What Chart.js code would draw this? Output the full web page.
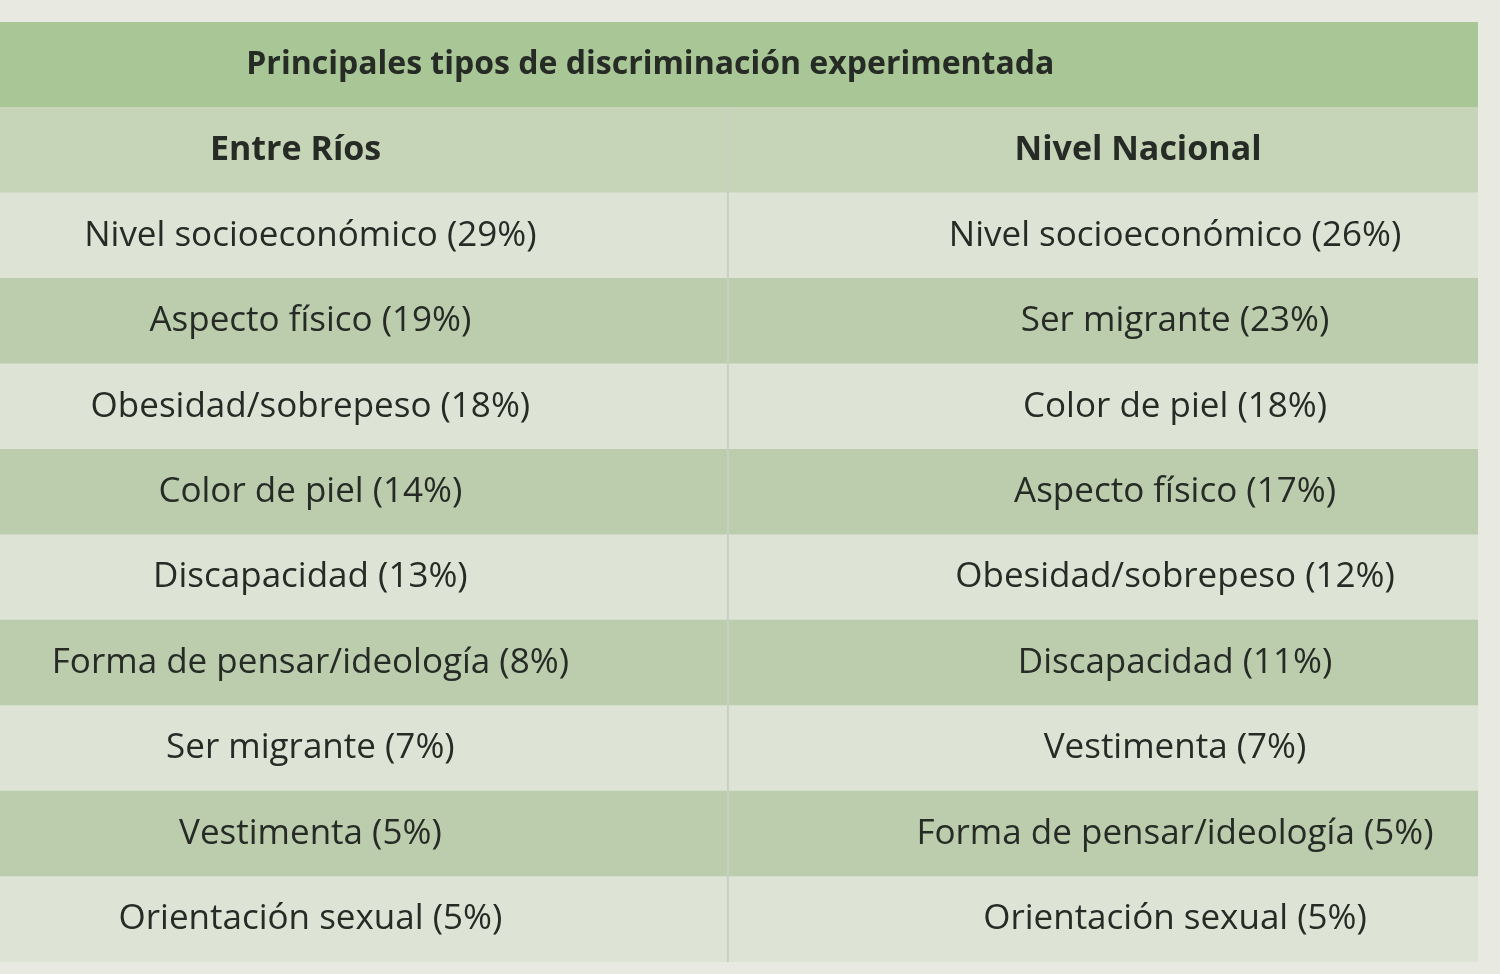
<!DOCTYPE html>
<html><head><meta charset="utf-8">
<script src="https://cdn.jsdelivr.net/npm/chart.js@4/dist/chart.umd.min.js"></script>
<style>html,body{margin:0;padding:0;background:#e8eae2;}canvas{display:block}</style>
</head><body>
<canvas id="c" width="1500" height="974"></canvas>
<script>
const title = "Principales tipos de discriminación experimentada";
const headers = ["Entre Ríos", "Nivel Nacional"];
const entreRiosCats = ["Nivel socioeconómico","Aspecto físico","Obesidad/sobrepeso","Color de piel","Discapacidad","Forma de pensar/ideología","Ser migrante","Vestimenta","Orientación sexual"];
const entreRiosVals = [29,19,18,14,13,8,7,5,5];
const nacionalCats = ["Nivel socioeconómico","Ser migrante","Color de piel","Aspecto físico","Obesidad/sobrepeso","Discapacidad","Vestimenta","Forma de pensar/ideología","Orientación sexual"];
const nacionalVals = [26,23,18,17,12,11,7,5,5];

const rows = ["title","header"].concat(entreRiosCats.map((_,i)=>"r"+i));
const colors = ["#a9c796","#c6d5b7"].concat(entreRiosCats.map((_,i)=> i%2===0 ? "#dde4d5" : "#bccdae"));

const textPlugin = {
  id:'tableText',
  afterDatasetsDraw(chart){
    const {ctx, scales:{x,y}} = chart;
    ctx.save();
    ctx.fillStyle = "#262b26";
    ctx.textAlign = "center"; ctx.textBaseline = "middle";
    ctx.font = "bold 32px 'Open Sans'";
    ctx.fillText(title, x.getPixelForValue(0.88), y.getPixelForValue(0));
    ctx.font = "bold 34px 'Open Sans'";
    ctx.fillText(headers[0], x.getPixelForValue(0.4), y.getPixelForValue(1));
    ctx.fillText(headers[1], x.getPixelForValue(1.54), y.getPixelForValue(1));
    ctx.font = "35px 'Open Sans'";
    entreRiosCats.forEach((c,i)=>{
      ctx.fillText(c+" ("+entreRiosVals[i]+"%)", x.getPixelForValue(0.42), y.getPixelForValue(i+2));
      ctx.fillText(nacionalCats[i]+" ("+nacionalVals[i]+"%)", x.getPixelForValue(1.59), y.getPixelForValue(i+2));
    });
    ctx.strokeStyle = "#c9cfc3"; ctx.lineWidth = 2;
    ctx.beginPath();
    const xd = x.getPixelForValue(0.985);
    ctx.moveTo(xd, y.getPixelForValue(0.5)); ctx.lineTo(xd, y.getPixelForValue(10.5));
    ctx.stroke();
    ctx.restore();
  }
};

new Chart(document.getElementById('c'), {
  type:'bar',
  data:{ labels: rows, datasets:[{ data: rows.map(()=>[0,2]), backgroundColor: colors, barPercentage:1, categoryPercentage:1, borderWidth:0 }]},
  options:{
    responsive:false, animation:false, indexAxis:'y',
    layout:{padding:{top:22,bottom:12,left:0,right:22}},
    plugins:{legend:{display:false},tooltip:{enabled:false}},
    scales:{ x:{display:false,min:0,max:2}, y:{display:false} }
  },
  plugins:[textPlugin]
});
</script>
</body></html>
